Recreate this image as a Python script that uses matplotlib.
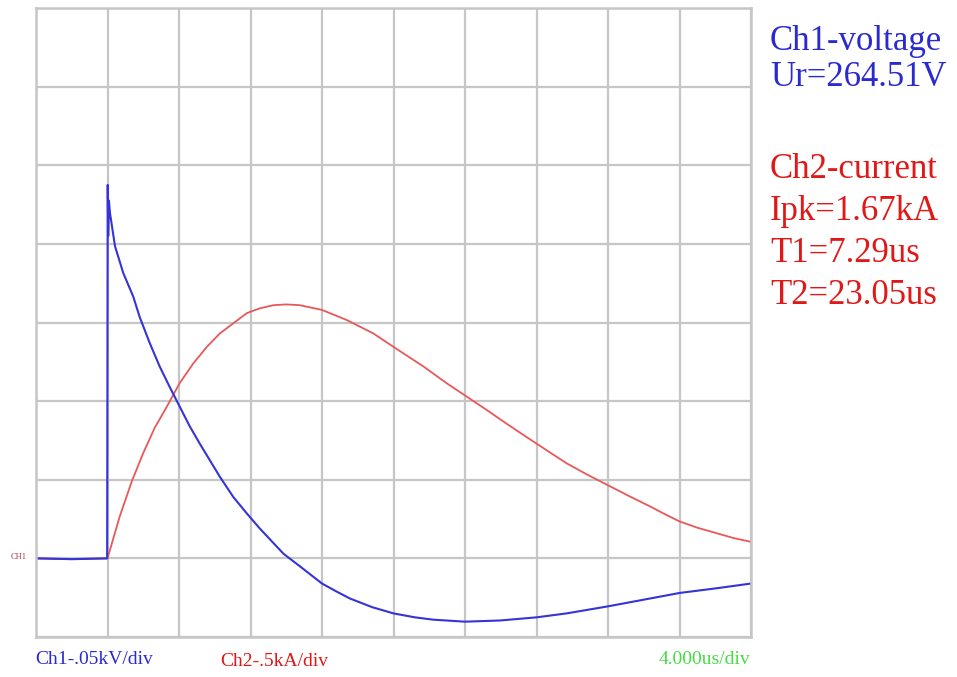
import matplotlib
matplotlib.use("Agg")
import matplotlib.pyplot as plt
import numpy as np

# oscilloscope screen: 10 x 8 divisions, time 4 us/div
# values, in divisions (x) and divisions (y, from bottom)
ch1_x = [0.0, 0.5, 0.995, 1.003, 1.01, 1.02, 1.035, 1.105, 1.22, 1.36, 1.45, 1.59,
         1.73, 1.87, 2.01, 2.15, 2.29, 2.43, 2.57, 2.76, 2.95, 3.13, 3.46, 3.69,
         4.0, 4.2, 4.39, 4.7, 5.0, 5.3, 5.56, 6.0, 6.49, 7.0, 7.42, 8.0, 8.59,
         9.0, 9.52, 10.0]
ch1_y = [1.0, 0.99, 1.0, 5.75, 5.1, 5.55, 5.39, 4.97, 4.63, 4.33, 4.07, 3.74,
         3.44, 3.18, 2.93, 2.68, 2.46, 2.25, 2.04, 1.78, 1.57, 1.38, 1.06, 0.90,
         0.68, 0.58, 0.49, 0.38, 0.30, 0.25, 0.22, 0.195, 0.21, 0.25, 0.30, 0.39, 0.49,
         0.56, 0.62, 0.68]

ch2_x = [0.0, 0.5, 1.0, 1.17, 1.34, 1.50, 1.66, 1.83, 2.01, 2.20, 2.39, 2.57,
         2.76, 2.95, 3.13, 3.32, 3.5, 3.69, 4.0, 4.35, 4.72, 5.0, 5.42, 5.74,
         6.02, 6.30, 6.49, 6.75, 7.0, 7.2, 7.42, 7.7, 8.0, 8.3, 8.59, 8.8, 9.0,
         9.25, 9.52, 9.75, 10.0]
ch2_y = [1.0, 0.99, 1.0, 1.53, 1.98, 2.34, 2.66, 2.93, 3.23, 3.48, 3.69, 3.86,
         3.99, 4.12, 4.18, 4.22, 4.23, 4.22, 4.16, 4.03, 3.86, 3.69, 3.44, 3.23,
         3.06, 2.89, 2.77, 2.61, 2.46, 2.34, 2.21, 2.07, 1.93, 1.79, 1.66, 1.56, 1.47,
         1.39, 1.32, 1.26, 1.21]

us_per_div = 4.0
t1 = np.array(ch1_x) * us_per_div
t2 = np.array(ch2_x) * us_per_div

info_ch1 = ["Ch1-voltage", "Ur=264.51V"]
info_ch2 = ["Ch2-current", "Ipk=1.67kA", "T1=7.29us", "T2=23.05us"]

plt.rcParams['font.family'] = ['Liberation Serif', 'DejaVu Serif']

fig = plt.figure(figsize=(9.57, 6.77), dpi=100)
ax = fig.add_axes([36/957, 40/677, 715/957, 629/677])

siatka = '#c6c6c6'
ax.set_xlim(0, 10 * us_per_div)
ax.set_ylim(0, 8)
ax.set_xticks(np.arange(0, 10 * us_per_div + 0.1, us_per_div))
ax.set_yticks(range(0, 9))
ax.grid(True, color=siatka, lw=1.6)
ax.tick_params(length=0, labelbottom=False, labelleft=False)
for s in ax.spines.values():
    s.set_color(siatka)
    s.set_linewidth(1.8)
ax.set_axisbelow(True)

ax.plot(t2, ch2_y, color='#e85858', lw=1.3)
ax.plot(t1, ch1_y, color='#3434d8', lw=1.5)

# opisy po prawej
for i, s in enumerate(info_ch1):
    fig.text(770/957, 1 - (42 + 36*i)/677, s, color='#2a2ad0', fontsize=25, va='center')
for i, s in enumerate(info_ch2):
    fig.text(770/957, 1 - (170 + 42*i)/677, s, color='#e01818', fontsize=25, va='center')

# opisy pod ekranem
fig.text(35/957, 1 - 660/677, "Ch1-.05kV/div", color='#2a2ad0', fontsize=14, va='center')
fig.text(220/957, 1 - 662/677, "Ch2-.5kA/div", color='#e01818', fontsize=14, va='center')
fig.text(750/957, 1 - 660/677, "4.000us/div", color='#44dd44', fontsize=14, va='center', ha='right')
fig.text(11/957, 1 - 557/677, "CH1", color='#b03050', fontsize=6, va='center')

fig.savefig('out.png', dpi=100)
